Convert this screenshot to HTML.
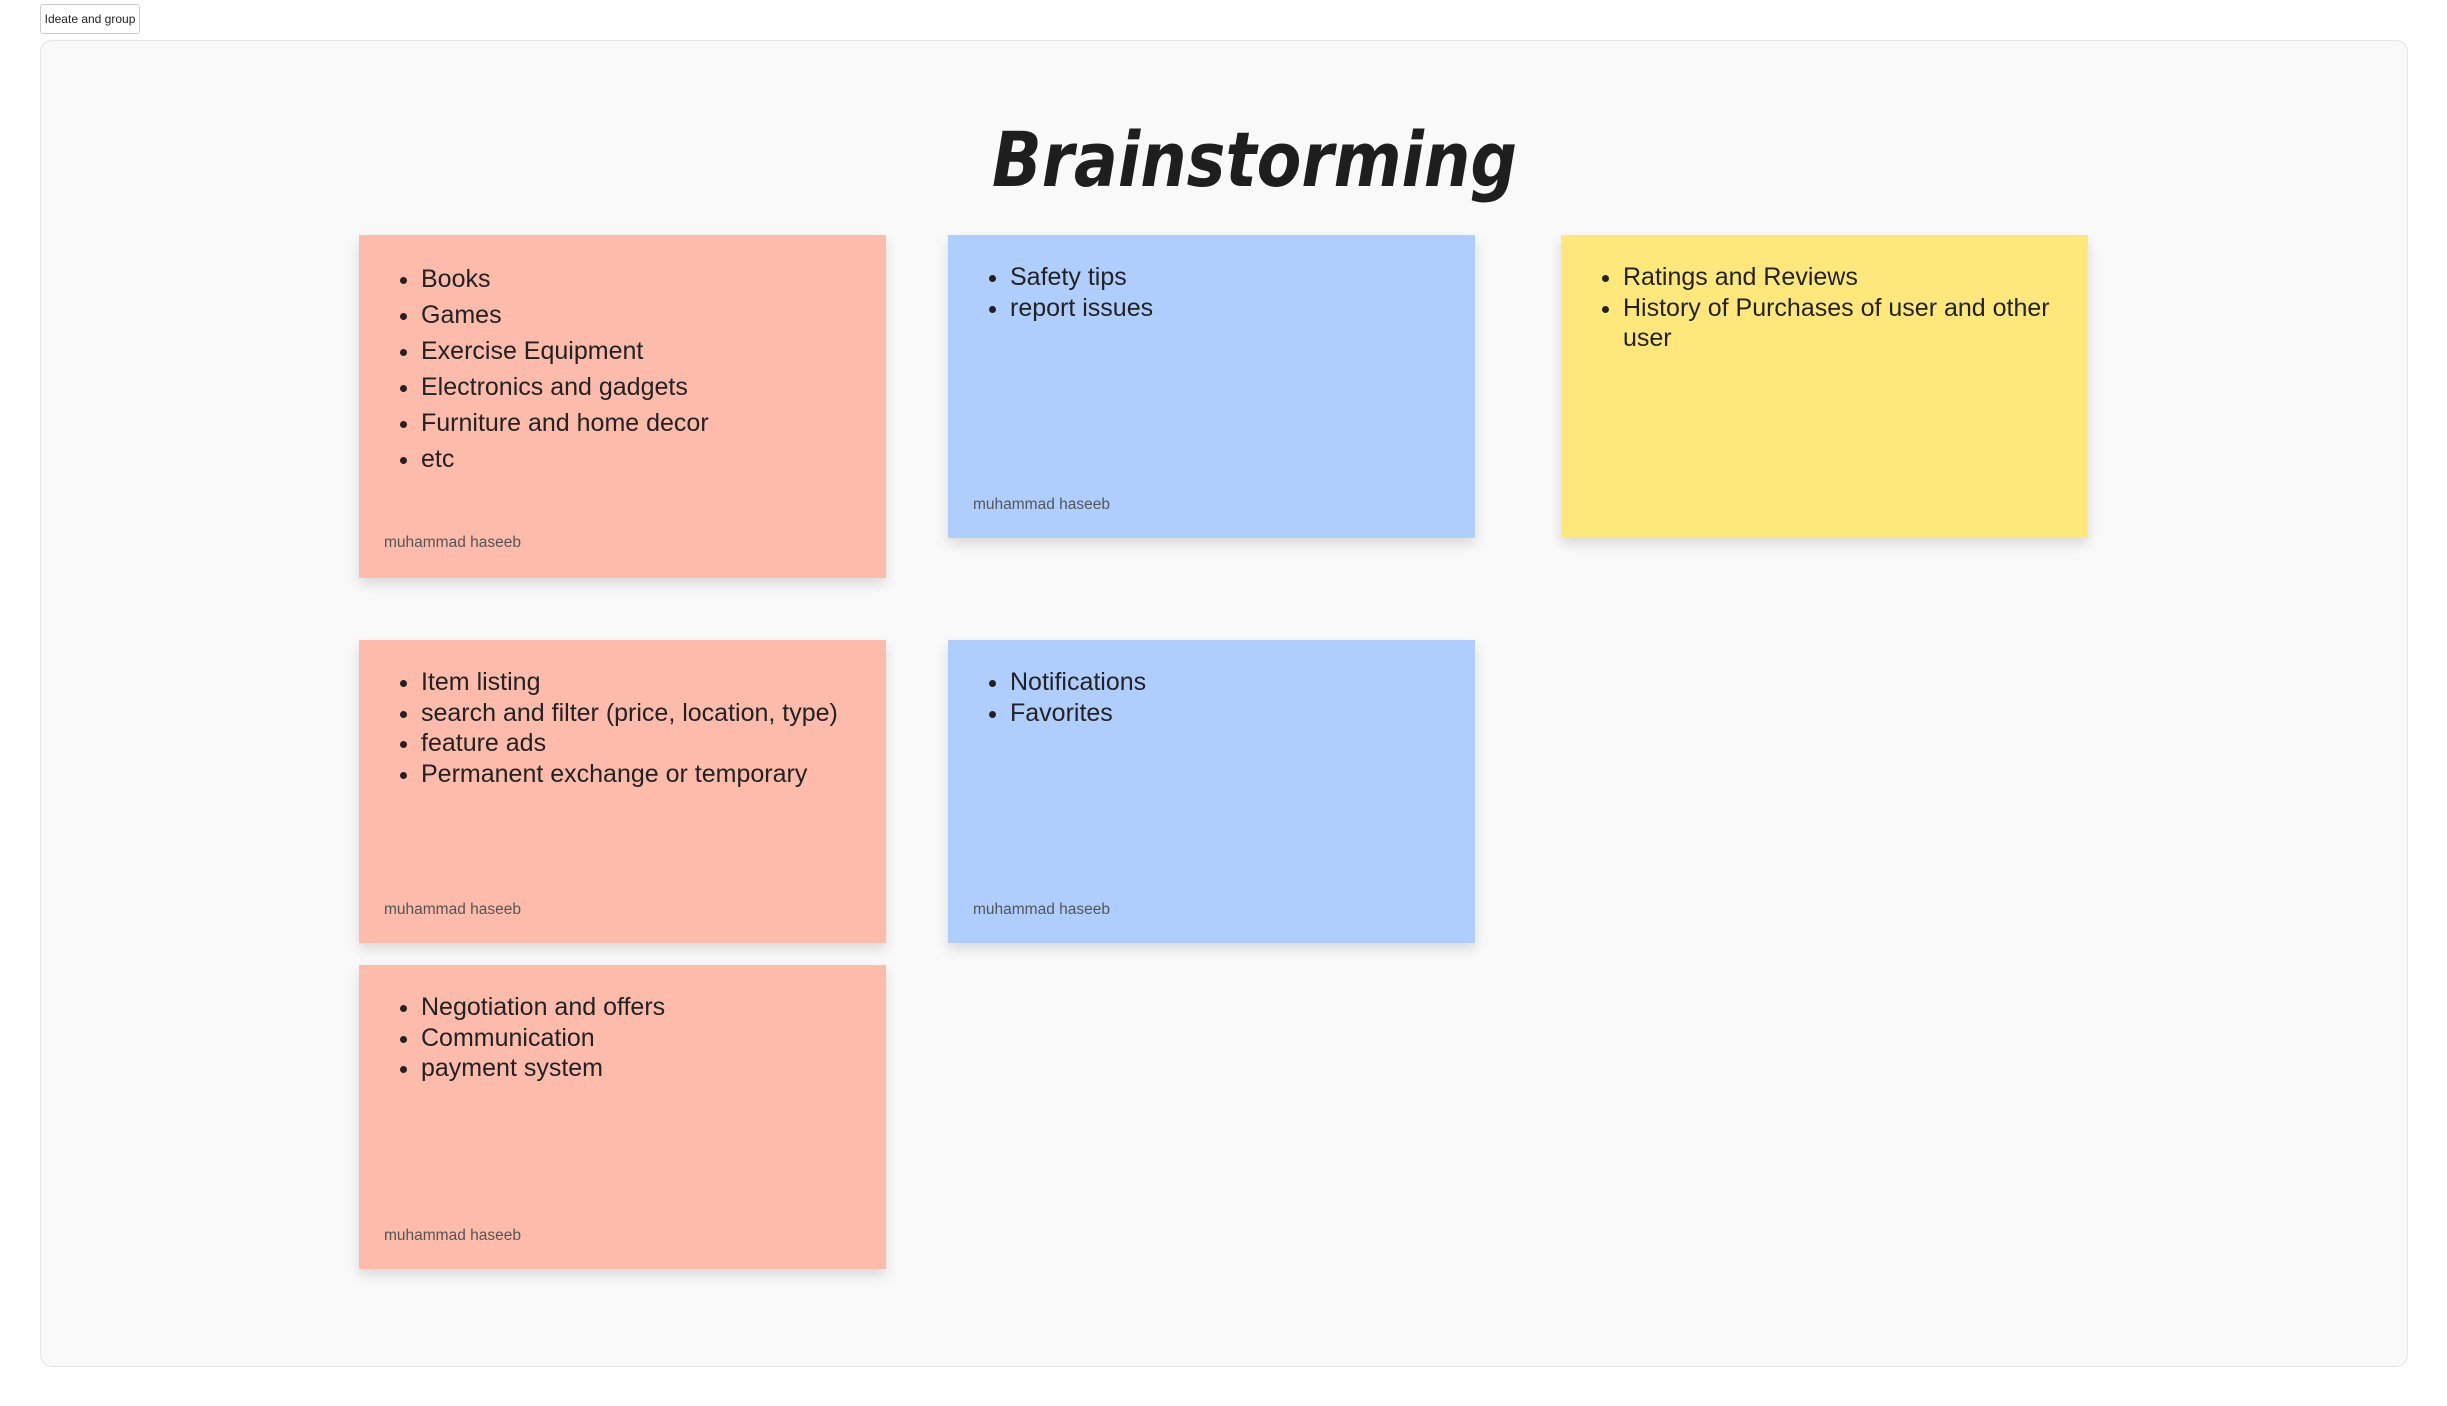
<!DOCTYPE html>
<html><head><meta charset="utf-8"><style>
body{margin:0;width:2447px;height:1406px;background:#fff;position:relative;overflow:hidden;font-family:"Liberation Sans",sans-serif;}
.btn{position:absolute;left:40px;top:4px;width:98px;height:28px;border:1px solid #ccc;border-radius:3px;font-size:12px;line-height:28px;text-align:center;color:#222;background:#fff;}
.frame{position:absolute;left:40px;top:40px;width:2366px;height:1325px;background:#f9f9f9;border:1px solid #e5e5e5;border-radius:12px;}
.n{position:absolute;box-shadow:0 6px 12px rgba(0,0,0,0.13);}
.p{background:#fcbbab}.b{background:#afcefe}.y{background:#ffe87b}
.n ul{margin:0;padding:0 0 0 62px;position:absolute;top:27px;left:0;right:10px;font-size:25px;color:#222;line-height:30.5px;}
.n ul.s li{margin-bottom:5.5px}
.a{position:absolute;left:25px;font-size:15.5px;color:#555;}
</style></head><body>
<div class="btn">Ideate and group</div>
<div class="frame"></div>
<svg style="position:absolute;left:0;top:0" width="2447" height="260"><text x="992" y="186" textLength="525" lengthAdjust="spacingAndGlyphs" font-family="DejaVu Sans" font-style="oblique" font-weight="bold" font-size="76" fill="#1e1e1e">Brainstorming</text></svg>

<div class="n p" style="left:359px;top:235px;width:527px;height:343px">
<ul class="s" style="top:29px"><li>Books</li><li>Games</li><li>Exercise Equipment</li><li>Electronics and gadgets</li><li>Furniture and home decor</li><li>etc</li></ul>
<div class="a" style="top:299px">muhammad haseeb</div></div>

<div class="n b" style="left:948px;top:235px;width:527px;height:303px">
<ul><li>Safety tips</li><li>report issues</li></ul>
<div class="a" style="top:261px">muhammad haseeb</div></div>

<div class="n y" style="left:1561px;top:235px;width:527px;height:303px">
<ul><li>Ratings and Reviews</li><li>History of Purchases of user and other user</li></ul></div>

<div class="n p" style="left:359px;top:640px;width:527px;height:303px">
<ul><li>Item listing</li><li>search and filter (price, location, type)</li><li>feature ads</li><li>Permanent exchange or temporary</li></ul>
<div class="a" style="top:261px">muhammad haseeb</div></div>

<div class="n b" style="left:948px;top:640px;width:527px;height:303px">
<ul><li>Notifications</li><li>Favorites</li></ul>
<div class="a" style="top:261px">muhammad haseeb</div></div>

<div class="n p" style="left:359px;top:965px;width:527px;height:304px">
<ul><li>Negotiation and offers</li><li>Communication</li><li>payment system</li></ul>
<div class="a" style="top:262px">muhammad haseeb</div></div>
</body></html>
